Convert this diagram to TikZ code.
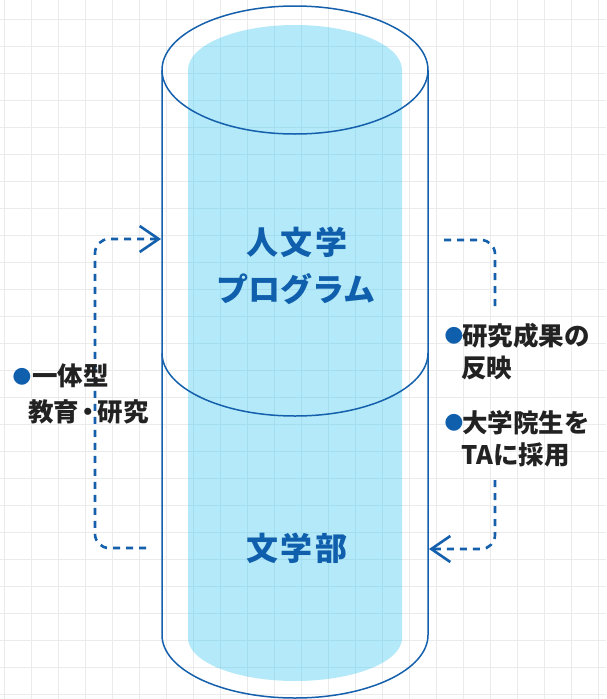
\documentclass[tikz,border=0pt]{standalone}
\usepackage{fontspec}
\newfontfamily\cjk{Noto Sans CJK JP}
\newfontfamily\cjkwide{Noto Sans CJK JP}[LetterSpace=8]
\newfontfamily\dvs{DejaVu Sans}
\usetikzlibrary{arrows.meta}
\definecolor{lineblue}{HTML}{1560AD}
\definecolor{fillblue}{HTML}{B3E9F8}
\definecolor{gridonblue}{HTML}{A3DDEE}
\definecolor{textblue}{HTML}{0F5FAD}
\definecolor{gridgray}{HTML}{EBEBEB}
\definecolor{labelgray}{HTML}{222222}
\begin{document}
\begin{tikzpicture}[x=1pt,y=-1pt,
  gridline/.style={draw=gridgray, line width=1pt},
  cyl/.style={draw=lineblue, line width=1.5pt},
  flow/.style={draw=lineblue, line width=2.6pt, dash pattern=on 7pt off 6pt, rounded corners=14pt},
  tipstyle/.style={-{Straight Barb[length=19pt,width=26pt,line width=2.6pt]}},
  title/.style={font=\cjk\bfseries\fontsize{32}{32}\selectfont, text=textblue, inner sep=0},
  titlewide/.style={font=\cjkwide\bfseries\fontsize{32}{32}\selectfont, text=textblue, inner sep=0},
  label/.style={font=\cjk\bfseries\fontsize{25.5}{25.5}\selectfont, text=labelgray, inner sep=0, anchor=west},
  bullet/.style={font=\dvs\fontsize{22}{22}\selectfont, text=textblue, inner sep=0},
]
\useasboundingbox (0,0) rectangle (606,699);
\fill[white] (0,0) rectangle (606,699);
% grid
\foreach \i in {0,...,22} { \draw[gridline] ({4+27*\i},0) -- ({4+27*\i},699); }
\foreach \j in {0,...,25} { \draw[gridline] (0,{19+27*\j}) -- (606,{19+27*\j}); }
% inner fill
\fill[fillblue] (188,70) arc[start angle=180, end angle=360, x radius=107, y radius=45]
  -- (402,638) arc[start angle=0, end angle=180, x radius=107, y radius=43] -- cycle;
\begin{scope}
\clip (188,70) arc[start angle=180, end angle=360, x radius=107, y radius=45]
  -- (402,638) arc[start angle=0, end angle=180, x radius=107, y radius=43] -- cycle;
\foreach \i in {0,...,22} { \draw[draw=gridonblue, line width=1pt] ({4+27*\i},0) -- ({4+27*\i},699); }
\foreach \j in {0,...,25} { \draw[draw=gridonblue, line width=1pt] (0,{19+27*\j}) -- (606,{19+27*\j}); }
\end{scope}
% cylinder outline
\draw[cyl] (295,70) ellipse [x radius=133, y radius=64];
\draw[cyl] (162,70) -- (162,635) arc[start angle=180, end angle=0, x radius=133, y radius=63] -- (428,70);
\draw[cyl] (162,353) arc[start angle=180, end angle=0, x radius=133, y radius=63];
% titles
\node[titlewide] (t1) at (297,242) {人文学};
\node[title] (t2) at (296,289) {プログラム};
\node[titlewide] (t3) at (297,548) {文学部};
% connectors
\coordinate (lstart) at (146,548);
\coordinate (ltip) at (161,239);
\coordinate (rstart) at (444,240);
\coordinate (rend) at (495,308);
\coordinate (rbstart) at (495,480);
\coordinate (rtip) at (429,549);
\draw[flow, tipstyle] (lstart) -- (95,548) -- (95,239) -- (ltip);
\draw[flow] (rstart) -- (495,240) -- (rend);
\draw[flow, tipstyle] (rbstart) -- (495,549) -- (rtip);
% labels
\node[bullet] (b1) at (22,377) {●};
\node[label] (l1) at (32,376) {一体型};
\node[label] (l2) at (28,412) {教育\kern-3.5pt・\kern-3.5pt研究};
\node[bullet] (b2) at (454,336) {●};
\node[label] (r1) at (462,336) {研究成果の};
\node[label] (r2) at (461,368) {反映};
\node[bullet] (b3) at (454,423) {●};
\node[label] (r3) at (462,423) {大学院生を};
\node[label] (r4) at (461,455) {TAに採用};
\end{tikzpicture}
\end{document}
